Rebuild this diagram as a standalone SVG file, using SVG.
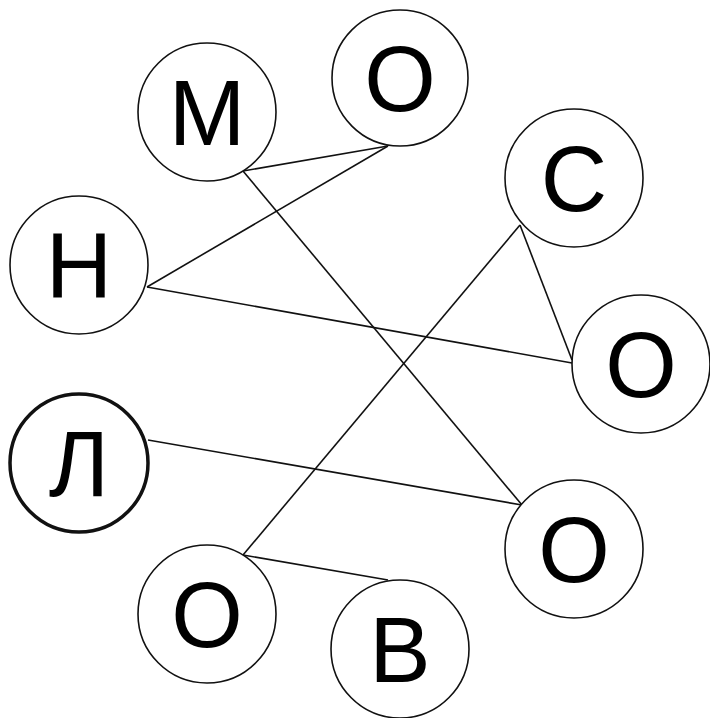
<svg xmlns="http://www.w3.org/2000/svg" width="710" height="718" viewBox="0 0 710 718">
<style>
.n circle{fill:#fff;stroke:#111;stroke-width:1.6}
.n.b circle{stroke-width:3.5}
.n text{font-family:"Liberation Sans",Arial,sans-serif;font-size:92px;fill:#000;text-anchor:middle}
.e line{stroke:#111;stroke-width:1.6}
</style>
<rect width="710" height="718" fill="#fff"/>
<g id="edges" class="e">
<line x1="243" y1="171" x2="388" y2="146"/>
<line x1="147" y1="287" x2="388" y2="146"/>
<line x1="147" y1="287" x2="572" y2="363"/>
<line x1="520" y1="225" x2="572" y2="360"/>
<line x1="520" y1="225" x2="243" y2="555"/>
<line x1="243" y1="171" x2="522" y2="505"/>
<line x1="148" y1="440" x2="522" y2="505"/>
<line x1="243" y1="555" x2="388" y2="580"/>
</g>
<g id="n-m" class="n"><circle cx="207" cy="112" r="69"/><text x="207" y="145">М</text></g>
<g id="n-o1" class="n"><circle cx="400" cy="78" r="68"/><text x="400" y="111">О</text></g>
<g id="n-s" class="n"><circle cx="574" cy="178" r="69"/><text x="574" y="211">С</text></g>
<g id="n-n" class="n"><circle cx="79" cy="265" r="69"/><text x="79" y="298">Н</text></g>
<g id="n-o2" class="n"><circle cx="641" cy="364" r="69"/><text x="641" y="397">О</text></g>
<g id="n-l" class="n b"><circle cx="79" cy="463" r="69"/><text x="79" y="496">Л</text></g>
<g id="n-o3" class="n"><circle cx="574" cy="549" r="69"/><text x="574" y="582">О</text></g>
<g id="n-o4" class="n"><circle cx="207" cy="614" r="69"/><text x="207" y="647">О</text></g>
<g id="n-v" class="n"><circle cx="400" cy="649" r="69"/><text x="400" y="682">В</text></g>
</svg>
